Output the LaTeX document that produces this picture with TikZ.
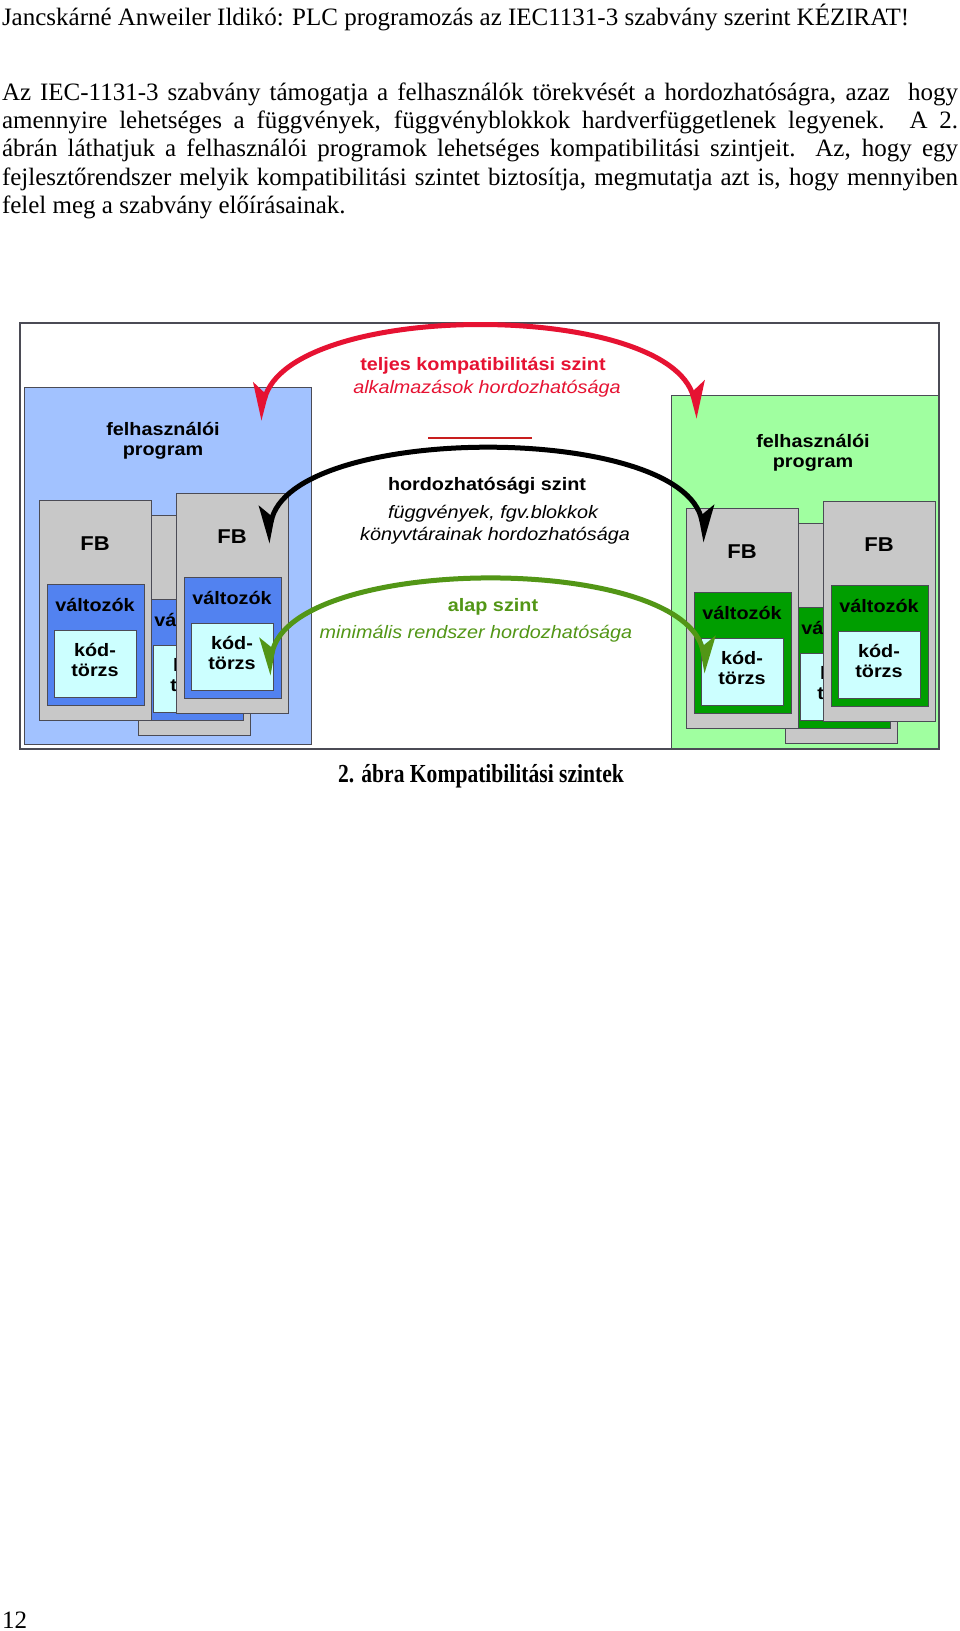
\documentclass[tikz,border=0pt]{standalone}
\usepackage{fontspec}
\setmainfont{Liberation Serif}
\newfontfamily\diafont[FakeStretch=1.1]{Liberation Sans}
\usetikzlibrary{arrows.meta,positioning}

\definecolor{panelblue}{RGB}{162,194,255}
\definecolor{varblue}{RGB}{82,130,240}
\definecolor{panelgreen}{RGB}{160,255,160}
\definecolor{vargreen}{RGB}{0,158,0}
\definecolor{kodcyan}{RGB}{204,255,255}
\definecolor{fbgray}{RGB}{200,200,200}
\definecolor{edgegray}{RGB}{75,75,85}
\definecolor{arcred}{RGB}{230,18,50}
\definecolor{arcgreen}{RGB}{82,150,22}
\definecolor{linered}{RGB}{200,30,30}

\begin{document}
\begin{tikzpicture}[
    x=1pt, y=-1pt,
    every node/.style={inner sep=0pt, outer sep=0pt},
    pagetext/.style={font=\fontsize{25}{28.4}\selectfont, anchor=base west},
    frame/.style={draw=edgegray, line width=1.3pt, anchor=north west,
        minimum width=919pt, minimum height=426pt},
    panel/.style={draw=edgegray, line width=1pt, anchor=north west,
        minimum width=287pt, minimum height=357pt},
    fbbox/.style={draw=edgegray, fill=fbgray, line width=0.8pt, anchor=north west,
        minimum width=112pt, minimum height=220pt},
    valtbox/.style={draw=edgegray, line width=0.8pt, anchor=north west,
        minimum width=97pt, minimum height=121pt},
    kodbox/.style={draw=edgegray, fill=kodcyan, line width=0.8pt, anchor=north west,
        minimum width=82pt, minimum height=67pt},
    boxtext/.style={font=\diafont\bfseries\fontsize{18}{19.7}\selectfont,
        anchor=base, align=center},
    fbtext/.style={font=\diafont\bfseries\fontsize{20}{22}\selectfont, anchor=base},
    levelbold/.style={font=\diafont\bfseries\fontsize{18}{20}\selectfont, anchor=base},
    levelital/.style={font=\diafont\itshape\fontsize{18}{20}\selectfont, anchor=base},
    arc/.style={line width=5pt,
        arrows={Stealth[harpoon,swap,length=30pt,width=30pt,inset=8pt]-Stealth[harpoon,length=30pt,width=30pt,inset=8pt]}}
  ]
  \useasboundingbox (0,0) rectangle (960,1631);
  \fill[white] (0,0) rectangle (960,1631);

  % page text
  \node[pagetext] (header) at (2,25)
    {Jancskárné Anweiler Ildikó: PLC programozás az IEC1131-3 szabvány szerint KÉZIRAT!};
  \node[pagetext] (par1) at (2,100)
    {\makebox[956pt][s]{Az IEC-1131-3 szabvány támogatja a felhasználók törekvését a hordozhatóságra, azaz \ hogy}};
  \node[pagetext] (par2) at (2,128.4)
    {\makebox[956pt][s]{amennyire lehetséges a függvények, függvényblokkok hardverfüggetlenek legyenek. A 2.}};
  \node[pagetext] (par3) at (2,156.8)
    {\makebox[956pt][s]{ábrán láthatjuk a felhasználói programok lehetséges kompatibilitási szintjeit. Az, hogy egy}};
  \node[pagetext] (par4) at (2,185.2)
    {\makebox[956pt][s]{fejlesztőrendszer melyik kompatibilitási szintet biztosítja, megmutatja azt is, hogy mennyiben}};
  \node[pagetext] (par5) at (2,213.6) {felel meg a szabvány előírásainak.};

  % diagram
  \node[frame, fill=white] (frame) at (20,323) {};
  \begin{scope}
    \clip (frame.north west) rectangle (frame.south east);
    \foreach \s/\ox/\oy/\pan/\var/\tx/\ty in
        {L/39/500/panelblue/varblue/163/455, R/686/508/panelgreen/vargreen/813/467}{
      \node[panel, fill=\pan] (prog\s) at (\ox-15,\oy-113) {};
      \node[boxtext] (progtext\s) at (\tx,\ty) {felhasználói\\program};
      \foreach \n/\dx/\dy in {b/99/15, a/0/0, c/137/-7}{
        \node[fbbox] (fb\s\n) at (\ox+\dx,\oy+\dy) {};
        \node[valtbox, fill=\var] (valt\s\n) at (\ox+\dx+8,\oy+\dy+84) {};
        \node[kodbox] (kod\s\n) at (\ox+\dx+15,\oy+\dy+130) {};
        \node[fbtext] (fbtext\s\n) at (\ox+\dx+56,\oy+\dy+50) {FB};
        \node[boxtext] (valttext\s\n) at (\ox+\dx+56,\oy+\dy+111) {változók};
        \node[boxtext] (kodtext\s\n) at (\ox+\dx+56,\oy+\dy+176.5) {kód-\\törzs};
      }
    }
  \end{scope}
  \draw[edgegray, line width=1.3pt] (frame.north west) rectangle (frame.south east);

  % compatibility levels
  \coordinate (teljesL) at (259,420);
  \coordinate (teljesR) at (699,418);
  \coordinate (hordL) at (267,543);
  \coordinate (hordR) at (706,542);
  \coordinate (alapL) at (268,675);
  \coordinate (alapR) at (707,673);
  \draw[arc, arcred] (teljesL) .. controls (290,300) and (668,300) .. (teljesR);
  \draw[arc, black] (hordL) .. controls (290,423) and (683,422) .. (hordR);
  \draw[arc, arcgreen] (alapL) .. controls (290,554) and (685,552) .. (alapR);

  \node[levelbold, text=arcred] (teljes) at (483,370.5) {teljes kompatibilitási szint};
  \node[levelital, text=arcred] (teljesdesc) at (487,393) {alkalmazások hordozhatósága};
  \coordinate (redlineL) at (428,438);
  \coordinate (redlineR) at (532,438);
  \draw[linered, line width=1.5pt] (redlineL) -- (redlineR);
  \node[levelbold] (hord) at (487,490.5) {hordozhatósági szint};
  \node[levelital] (horddesc1) at (493,518) {függvények, fgv.blokkok};
  \node[levelital] (horddesc2) at (495,540.5) {könyvtárainak hordozhatósága};
  \node[levelbold, text=arcgreen] (alap) at (493,611) {alap szint};
  \node[levelital, text=arcgreen] (alapdesc) at (476,638) {minimális rendszer hordozhatósága};

  \node[anchor=base] (caption) at (481,782)
    {\scalebox{0.83}[1]{\bfseries\fontsize{26}{30}\selectfont 2. ábra Kompatibilitási szintek}};
  \node[pagetext] (pagenum) at (2,1628) {12};
\end{tikzpicture}
\end{document}
